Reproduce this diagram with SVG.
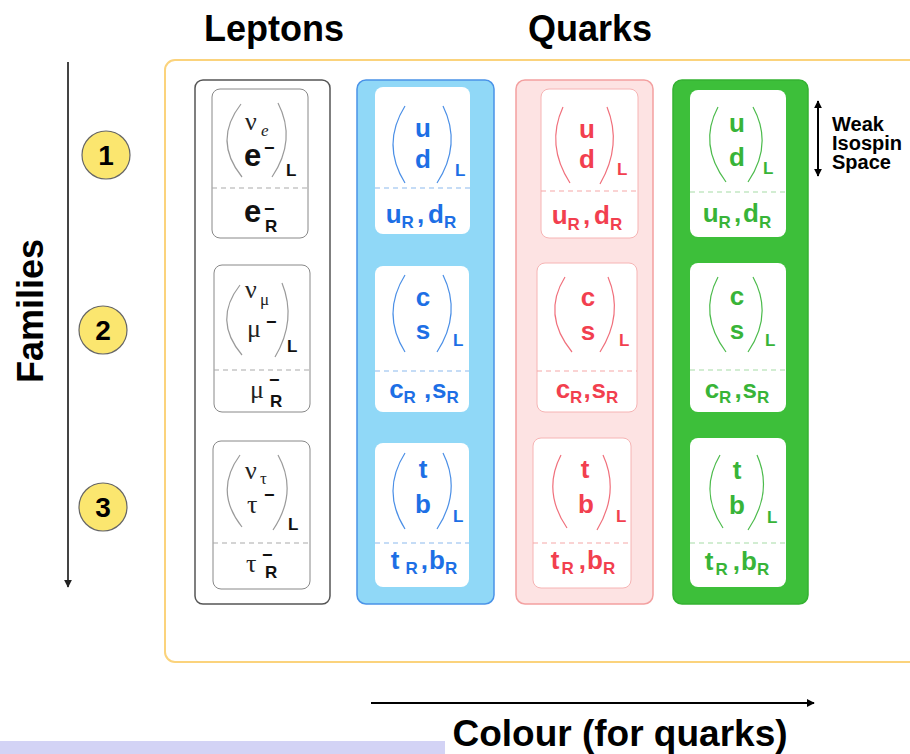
<svg xmlns="http://www.w3.org/2000/svg" width="910" height="754" viewBox="0 0 910 754">
<defs>
<style>
.t{font-family:"Liberation Sans",Arial,sans-serif;font-weight:bold}
.h{font-size:36px;fill:#000}
.q{font-size:26px;text-anchor:middle}
.s{font-size:17px}
.lb{font-size:17px}
.gk{font-family:"Liberation Serif","DejaVu Serif",serif;font-size:26px;fill:#222}
.gks{font-family:"Liberation Serif","DejaVu Serif",serif;font-size:17px;fill:#222}
.blue{fill:#1d6fe5}
.red{fill:#f23f4f}
.green{fill:#38b438}
.blk{fill:#111}
.pb{fill:none;stroke:#4b8fe6;stroke-width:1.2}
.pr{fill:none;stroke:#f0707c;stroke-width:1.2}
.pg{fill:none;stroke:#4cbb4c;stroke-width:1.2}
.pl{fill:none;stroke:#9a9a9a;stroke-width:1.2}
.db{stroke:#8cb9ee;stroke-width:1.2;stroke-dasharray:5 4}
.dr{stroke:#f6a8a8;stroke-width:1.2;stroke-dasharray:5 4}
.dg{stroke:#a6dca6;stroke-width:1.2;stroke-dasharray:5 4}
.dl{stroke:#aaaaaa;stroke-width:1.2;stroke-dasharray:5 4}
.num{fill:#fbe66f;stroke:#666;stroke-width:1.2}
.wk{font-size:20px}
</style>
<marker id="ah" viewBox="0 0 10 10" refX="9" refY="5" markerWidth="4" markerHeight="4" orient="auto-start-reverse"><path d="M0,0 L10,5 L0,10 z" fill="#000"/></marker>
<marker id="ahg" viewBox="0 0 10 10" refX="9" refY="5" markerWidth="4" markerHeight="4" orient="auto"><path d="M0,0 L10,5 L0,10 z" fill="#222"/></marker>
</defs>
<rect width="910" height="754" fill="#fff"/>
<rect x="0" y="741" width="445" height="13" fill="#d3d3f5"/>

<g id="frame"><rect x="165" y="60" width="760" height="602" rx="10" fill="none" stroke="#fbd37c" stroke-width="2"/></g>

<g id="headers">
<text class="t h" x="274" y="41" text-anchor="middle">Leptons</text>
<text class="t h" x="590" y="41" text-anchor="middle">Quarks</text>
<text class="t h" x="620" y="746" text-anchor="middle" style="font-size:37px">Colour (for quarks)</text>
<text class="t h" transform="translate(43,311) rotate(-90)" text-anchor="middle">Families</text>
<text class="t wk" x="832" y="131">Weak</text>
<text class="t wk" x="832" y="150">Isospin</text>
<text class="t wk" x="832" y="169">Space</text>
</g>

<g id="connectors">
<line x1="68" y1="62" x2="68" y2="587" stroke="#444" stroke-width="2" marker-end="url(#ahg)"/>
<line x1="371" y1="703" x2="814" y2="703" stroke="#000" stroke-width="2" marker-end="url(#ah)"/>
<line x1="818" y1="101" x2="818" y2="176" stroke="#000" stroke-width="2" marker-start="url(#ah)" marker-end="url(#ah)"/>
</g>

<g id="fam1"><circle class="num" cx="106" cy="155" r="24"/><text class="t" x="106" y="165" text-anchor="middle" style="font-size:28px">1</text></g>
<g id="fam2"><circle class="num" cx="103" cy="330" r="24"/><text class="t" x="103" y="340" text-anchor="middle" style="font-size:28px">2</text></g>
<g id="fam3"><circle class="num" cx="103" cy="507" r="24"/><text class="t" x="103" y="517" text-anchor="middle" style="font-size:28px">3</text></g>

<!-- Leptons -->
<g id="leptons">
<rect x="195" y="80" width="135" height="524" rx="8" fill="#fff" stroke="#555" stroke-width="1.5"/>
<g id="lep1">
<rect x="212" y="89" width="96" height="149" rx="8" fill="#fff" stroke="#888" stroke-width="1"/>
<path class="pl" d="M241,104 Q212.5,140.5 242,177"/><path class="pl" d="M278,103 Q297,140 272,177"/>
<text class="gk" x="245" y="130">ν</text><text class="gks" x="261" y="136" font-style="italic">e</text>
<text class="t blk" x="244" y="166" style="font-size:31px">e</text><text class="t blk" x="264" y="154" style="font-size:18px">−</text>
<text class="t lb blk" x="286" y="176">L</text>
<line class="dl" x1="212" y1="188" x2="308" y2="188"/>
<text class="t blk" x="244" y="222" style="font-size:31px">e</text><text class="t blk" x="264" y="215" style="font-size:18px">−</text><text class="t lb blk" x="265" y="232">R</text>
</g>
<g id="lep2">
<rect x="214" y="265" width="96" height="147" rx="8" fill="#fff" stroke="#888" stroke-width="1"/>
<path class="pl" d="M240,285 Q212.5,320 242,355"/><path class="pl" d="M282,283 Q297,320 275,357"/>
<text class="gk" x="245" y="298">ν</text><text class="gks" x="260" y="305">μ</text>
<text class="gk" x="247" y="337">μ</text><text class="t blk" x="266" y="328" style="font-size:18px">−</text>
<text class="t lb blk" x="287" y="352">L</text>
<line class="dl" x1="214" y1="370" x2="310" y2="370"/>
<text class="gk" x="250" y="398">μ</text><text class="t blk" x="269" y="386" style="font-size:18px">−</text><text class="t lb blk" x="270" y="407">R</text>
</g>
<g id="lep3">
<rect x="213" y="441" width="97" height="148" rx="8" fill="#fff" stroke="#888" stroke-width="1"/>
<path class="pl" d="M240,455 Q213.5,491 242,527"/><path class="pl" d="M278,455 Q298.5,492 273,530"/>
<text class="gk" x="245" y="479">ν</text><text class="gks" x="260" y="484">τ</text>
<text class="gk" x="247" y="513">τ</text><text class="t blk" x="264" y="501" style="font-size:18px">−</text>
<text class="t lb blk" x="288" y="530">L</text>
<line class="dl" x1="213" y1="543" x2="310" y2="543"/>
<text class="gk" x="246" y="572">τ</text><text class="t blk" x="262" y="561" style="font-size:18px">−</text><text class="t lb blk" x="265" y="578">R</text>
</g>
</g>

<!-- Blue -->
<g id="blue">
<rect x="357" y="80" width="137" height="524" rx="9" fill="#90d8f7" stroke="#4a93e8" stroke-width="1.5"/>
<g id="blue1">
<rect x="375" y="87" width="95" height="147" rx="8" fill="#fff"/>
<path class="pb" d="M405,106 Q381,144.5 405,183"/><path class="pb" d="M443,106 Q462,144.5 437,183"/>
<text class="t q blue" x="423" y="137">u</text><text class="t q blue" x="423" y="168">d</text>
<text class="t lb blue" x="455" y="176">L</text>
<line class="db" x1="375" y1="188" x2="470" y2="188"/>
<text class="t q blue" x="421" y="223">u<tspan class="s" dy="5">R</tspan><tspan dy="-5" dx="3">,</tspan><tspan dx="4">d</tspan><tspan class="s" dy="5">R</tspan></text>
</g>
<g id="blue2">
<rect x="375" y="266" width="94" height="146" rx="8" fill="#fff"/>
<path class="pb" d="M405,275 Q381,313.5 405,352"/><path class="pb" d="M443,275 Q462,313.5 437,352"/>
<text class="t q blue" x="423" y="306">c</text><text class="t q blue" x="423" y="339">s</text>
<text class="t lb blue" x="453" y="346">L</text>
<line class="db" x1="375" y1="371" x2="469" y2="371"/>
<text class="t q blue" x="424" y="398">c<tspan class="s" dy="5">R</tspan><tspan dy="-5" dx="8">,</tspan><tspan dx="1">s</tspan><tspan class="s" dy="5">R</tspan></text>
</g>
<g id="blue3">
<rect x="375" y="443" width="94" height="144" rx="8" fill="#fff"/>
<path class="pb" d="M405,453 Q381,491 405,529"/><path class="pb" d="M443,453 Q462,491 437,529"/>
<text class="t q blue" x="423" y="478">t</text><text class="t q blue" x="423" y="513">b</text>
<text class="t lb blue" x="453" y="522">L</text>
<line class="db" x1="375" y1="543" x2="469" y2="543"/>
<text class="t q blue" x="424" y="569">t<tspan class="s" dy="5" dx="6">R</tspan><tspan dy="-5" dx="3">,</tspan><tspan dx="1">b</tspan><tspan class="s" dy="5">R</tspan></text>
</g>
</g>

<!-- Red -->
<g id="red">
<rect x="516" y="80" width="137" height="524" rx="9" fill="#fde3e3" stroke="#f3a0a0" stroke-width="1.5"/>
<g id="red1">
<rect x="541" y="89" width="97" height="149" rx="8" fill="#fff" stroke="#f6b4b4" stroke-width="1"/>
<path class="pr" d="M563,107 Q545.5,145 570,183"/><path class="pr" d="M607,107 Q622.5,145 600,184"/>
<text class="t q red" x="587" y="138">u</text><text class="t q red" x="587" y="168">d</text>
<text class="t lb red" x="617" y="175">L</text>
<line class="dr" x1="541" y1="191" x2="638" y2="191"/>
<text class="t q red" x="587" y="224">u<tspan class="s" dy="6">R</tspan><tspan dy="-6" dx="3">,</tspan><tspan dx="4">d</tspan><tspan class="s" dy="6">R</tspan></text>
</g>
<g id="red2">
<rect x="537" y="263" width="100" height="149" rx="8" fill="#fff" stroke="#f6b4b4" stroke-width="1"/>
<path class="pr" d="M565,277 Q541.5,314.5 572,352"/><path class="pr" d="M608,277 Q624,314.5 600,352"/>
<text class="t q red" x="588" y="306">c</text><text class="t q red" x="588" y="340">s</text>
<text class="t lb red" x="619" y="346">L</text>
<line class="dr" x1="537" y1="371" x2="637" y2="371"/>
<text class="t q red" x="587" y="398">c<tspan class="s" dy="5">R</tspan><tspan dy="-5" dx="1">,</tspan><tspan dx="1">s</tspan><tspan class="s" dy="5">R</tspan></text>
</g>
<g id="red3">
<rect x="533" y="438" width="98" height="150" rx="8" fill="#fff" stroke="#f6b4b4" stroke-width="1"/>
<path class="pr" d="M561,455 Q542,491.5 567,528"/><path class="pr" d="M603,455 Q620,492 597,530"/>
<text class="t q red" x="585" y="478">t</text><text class="t q red" x="586" y="513">b</text>
<text class="t lb red" x="616" y="522">L</text>
<line class="dr" x1="533" y1="543" x2="631" y2="543"/>
<text class="t q red" x="583" y="569">t<tspan class="s" dy="5" dx="2">R</tspan><tspan dy="-5" dx="5">,</tspan><tspan dx="1">b</tspan><tspan class="s" dy="5">R</tspan></text>
</g>
</g>

<!-- Green -->
<g id="green">
<rect x="673" y="80" width="135" height="524" rx="9" fill="#3dbf3a" stroke="#34b232" stroke-width="1.5"/>
<g id="green1">
<rect x="690" y="90" width="96" height="147" rx="8" fill="#fff"/>
<path class="pg" d="M718,107 Q698,144.5 726,182"/><path class="pg" d="M753,107 Q773.5,144.5 748,182"/>
<text class="t q green" x="737" y="132">u</text><text class="t q green" x="737" y="166">d</text>
<text class="t lb green" x="763" y="174">L</text>
<line class="dg" x1="690" y1="192" x2="786" y2="192"/>
<text class="t q green" x="737" y="222">u<tspan class="s" dy="6">R</tspan><tspan dy="-6" dx="3">,</tspan><tspan dx="2">d</tspan><tspan class="s" dy="6">R</tspan></text>
</g>
<g id="green2">
<rect x="690" y="263" width="96" height="149" rx="8" fill="#fff"/>
<path class="pg" d="M718,277 Q698,314.5 726,352"/><path class="pg" d="M753,277 Q773.5,314.5 748,352"/>
<text class="t q green" x="737" y="305">c</text><text class="t q green" x="737" y="339">s</text>
<text class="t lb green" x="765" y="346">L</text>
<line class="dg" x1="690" y1="370" x2="786" y2="370"/>
<text class="t q green" x="737" y="398">c<tspan class="s" dy="5">R</tspan><tspan dy="-5" dx="3">,</tspan><tspan dx="1">s</tspan><tspan class="s" dy="5">R</tspan></text>
</g>
<g id="green3">
<rect x="690" y="438" width="96" height="149" rx="8" fill="#fff"/>
<path class="pg" d="M720,455 Q698.5,491.5 723,528"/><path class="pg" d="M757,455 Q773.5,492 748,530"/>
<text class="t q green" x="737" y="479">t</text><text class="t q green" x="737" y="514">b</text>
<text class="t lb green" x="767" y="523">L</text>
<line class="dg" x1="690" y1="543" x2="786" y2="543"/>
<text class="t q green" x="737" y="570">t<tspan class="s" dy="5" dx="2">R</tspan><tspan dy="-5" dx="5">,</tspan><tspan dx="1">b</tspan><tspan class="s" dy="5">R</tspan></text>
</g>
</g>
</svg>
